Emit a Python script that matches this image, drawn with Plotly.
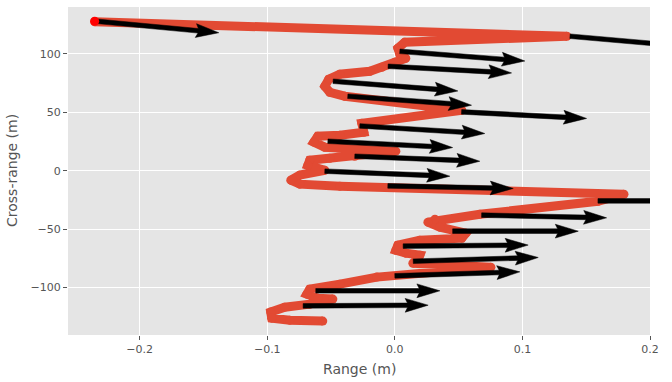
import math
import plotly.graph_objects as go

# ---------------- data ----------------
path_x = [-0.2353, 0.1349, 0.0078, 0.0024, 0.0039, 0.0086, 0.0, -0.0102, -0.0196, -0.0431,
          -0.0518, -0.0549, -0.0510, -0.0392, 0.0525, -0.0259, -0.0243, -0.0431, -0.0604, -0.0635,
          -0.0549, 0.0008, -0.0314, -0.0510, -0.0667, -0.0682, -0.0549, -0.0745, -0.0816, -0.0745,
          -0.0431, 0.1796, 0.1592, 0.0667, 0.0314, 0.0259, 0.0353, 0.0557, 0.0525, 0.0196,
          0.0024, 0.0008, 0.0086, 0.0196, 0.0180, 0.0141, 0.0753, -0.0141, -0.0431, -0.0667,
          -0.0690, -0.0604, -0.0486, -0.0667, -0.0863, -0.0973, -0.0965, -0.0824, -0.0565]
path_y = [127.4, 115.0, 109.8, 104.7, 99.6, 96.2, 92.7, 88.5, 85.0, 82.5,
          78.2, 72.2, 67.1, 63.7, 51.7, 40.6, 32.9, 30.3, 29.5, 24.4,
          20.1, 16.7, 12.4, 10.7, 9.0, 4.7, 0.4, -3.8, -8.1, -11.5,
          -13.2, -20.1, -26.1, -37.2, -41.5, -44.0, -48.3, -53.4, -57.7, -59.4,
          -63.7, -68.0, -70.5, -72.2, -76.5, -79.1, -82.5, -91.0, -97.0, -101.3,
          -105.6, -109.0, -109.8, -114.1, -116.7, -120.9, -126.1, -127.8, -128.6]

arrow_x = [-0.2337, 0.1373, 0.0039, -0.0053, -0.0484, -0.0369, 0.0523, -0.0275, -0.0525, -0.0314,
           -0.0549, -0.0055, 0.1592, 0.0680, 0.0453, 0.0065, 0.0144, 0.0, -0.0620, -0.0719]
arrow_y = [127.8, 115.0, 102.1, 89.3, 76.5, 63.7, 50.3, 38.3, 25.2, 12.4,
           -0.4, -13.0, -25.8, -38.0, -51.7, -64.5, -77.4, -89.9, -102.7, -115.6]
arrow_u = [0.0957, 0.0976, 0.0980, 0.0968, 0.0978, 0.0970, 0.0980, 0.0980, 0.0978, 0.0980,
           0.0980, 0.0983, 0.0980, 0.0980, 0.0985, 0.0980, 0.0980, 0.0980, 0.0973, 0.0980]
arrow_v = [-9.8, -9.3, -8.3, -5.7, -8.3, -7.7, -5.6, -6.5, -5.4, -4.3,
           -4.3, -2.2, 0.0, -2.3, 0.0, 0.9, 3.2, 3.4, 0.0, 0.6]

start_x = [-0.2353]
start_y = [127.8]

x_tickvals = [-0.2, -0.1, 0.0, 0.1, 0.2]
x_ticktext = ["\u22120.2", "\u22120.1", "0.0", "0.1", "0.2"]
y_tickvals = [-100, -50, 0, 50, 100]
y_ticktext = ["\u2212100", "\u221250", "0", "50", "100"]

# ---------------- layout constants ----------------
W, H = 672, 382
ML, MR, MT, MB = 68, 22, 7, 47
XR = [-0.2562, 0.2]
YR = [-140.5, 140.0]
sx = (W - ML - MR) / (XR[1] - XR[0])
sy = (H - MT - MB) / (YR[1] - YR[0])

# quiver-like arrow polygons (pixel-shaped, expressed in data units)
w = 4.6
hw, hl, hal = 3 * w, 5 * w, 4.5 * w
ax_poly, ay_poly = [], []
for x0, y0, u, v in zip(arrow_x, arrow_y, arrow_u, arrow_v):
    px, py = u * sx, v * sy
    L = math.hypot(px, py)
    dx, dy = px / L, py / L
    nx, ny = -dy, dx
    local = [(0, -w / 2), (L - hal, -w / 2), (L - hl, -hw / 2), (L, 0),
             (L - hl, hw / 2), (L - hal, w / 2), (0, w / 2), (0, -w / 2)]
    for a, b in local:
        ax_poly.append(x0 + (a * dx + b * nx) / sx)
        ay_poly.append(y0 + (a * dy + b * ny) / sy)
    ax_poly.append(None)
    ay_poly.append(None)

fig = go.Figure()
fig.add_trace(go.Scatter(x=path_x, y=path_y, mode="lines+markers",
                         line=dict(color="#E24A33", width=9),
                         marker=dict(color="#E24A33", size=9, line=dict(width=0)),
                         hoverinfo="skip", showlegend=False))
fig.add_trace(go.Scatter(x=ax_poly, y=ay_poly, mode="lines", fill="toself",
                         fillcolor="black", line=dict(color="black", width=0.5),
                         hoverinfo="skip", showlegend=False))
fig.add_trace(go.Scatter(x=start_x, y=start_y, mode="markers",
                         marker=dict(color="#FF0000", size=9, line=dict(width=0)),
                         hoverinfo="skip", showlegend=False))

fig.update_layout(
    width=W, height=H, autosize=False,
    margin=dict(l=ML, r=MR, t=MT, b=MB, pad=0),
    paper_bgcolor="white", plot_bgcolor="#E5E5E5",
    font=dict(family="DejaVu Sans", size=11, color="#555555"),
    showlegend=False,
    xaxis=dict(range=XR, tickvals=x_tickvals, ticktext=x_ticktext,
               showgrid=True, gridcolor="white", gridwidth=1, zeroline=False,
               ticks="outside", ticklen=4, tickcolor="#555555", tickwidth=1,
               showline=False, tickfont=dict(size=11, color="#555555")),
    yaxis=dict(range=YR, tickvals=y_tickvals, ticktext=y_ticktext,
               showgrid=True, gridcolor="white", gridwidth=1, zeroline=False,
               ticks="outside", ticklen=4, tickcolor="#555555", tickwidth=1,
               showline=False, tickfont=dict(size=11, color="#555555")),
    annotations=[
        dict(text="Range (m)", xref="paper", yref="paper", x=0.5, y=(335 - 369) / 328,
             xanchor="center", yanchor="middle", showarrow=False,
             font=dict(size=14, color="#555555", family="DejaVu Sans")),
        dict(text="Cross-range (m)", xref="paper", yref="paper", x=(12 - 68) / 582, y=0.5,
             xanchor="center", yanchor="middle", textangle=-90, showarrow=False,
             font=dict(size=14, color="#555555", family="DejaVu Sans")),
    ],
)

fig.write_html("out.html", config={"displayModeBar": False, "staticPlot": True},
               post_script="document.body.style.margin='0';document.body.style.overflow='hidden';")
